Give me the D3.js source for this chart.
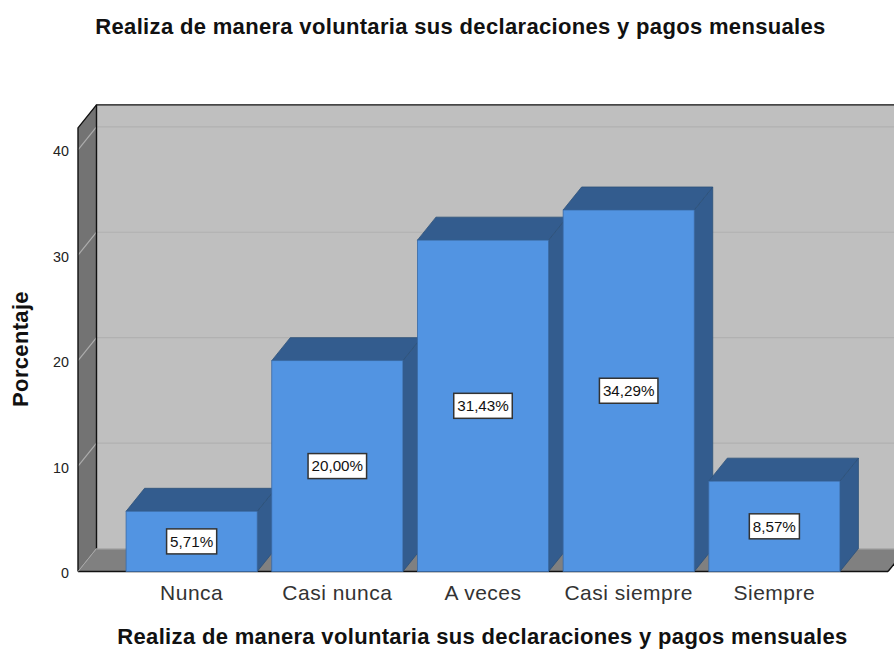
<!DOCTYPE html>
<html><head><meta charset="utf-8">
<script src="https://cdn.jsdelivr.net/npm/d3@7"></script>
<style>html,body{margin:0;padding:0;background:#fff;overflow:hidden}svg{display:block}text{font-family:"Liberation Sans",Arial,sans-serif}</style>
</head><body><svg id="c" width="894" height="649"></svg>
<script>
const categories = ["Nunca","Casi nunca","A veces","Casi siempre","Siempre"];
const values = [5.71,20.00,31.43,34.29,8.57];
const valueLabels = ["5,71%","20,00%","31,43%","34,29%","8,57%"];
const yTicks = [0,10,20,30,40];
const titleText = "Realiza de manera voluntaria sus declaraciones y pagos mensuales";
const yTitle = "Porcentaje";

(function(){
const W=894,H=649, dx=18.5, dy=-23;
const left=78,right=888,base=571.5;
const svg=d3.select("#c");
const x=d3.scaleBand().domain(categories).range([left,right]).paddingInner(0.1).paddingOuter(0.33);
const y=d3.scaleLinear().domain([0,40]).range([base,149.8]);
const topY=y(42.08);
const pts=a=>a.map(p=>p.join(",")).join(" ");

// back wall
svg.append("polygon").attr("points",pts([[left+dx,topY+dy],[right+dx,topY+dy],[right+dx,base+dy],[left+dx,base+dy]])).attr("fill","#bfbfbf");
// side wall
svg.append("polygon").attr("points",pts([[left,topY],[left+dx,topY+dy],[left+dx,base+dy],[left,base]])).attr("fill","#737373");
// floor
svg.append("polygon").attr("points",pts([[left,base],[left+dx,base+dy],[right+dx,base+dy],[right,base]])).attr("fill","#808080");
svg.append("line").attr("x1",left+dx).attr("x2",W).attr("y1",base+dy+0.5).attr("y2",base+dy+0.5).attr("stroke","#a6a6a6").attr("stroke-width",1);
// gridlines
const grid=svg.append("g");
yTicks.slice(1).forEach(t=>{
  grid.append("line").attr("x1",left+dx).attr("x2",W).attr("y1",y(t)+dy).attr("y2",y(t)+dy).attr("stroke","#b1b1b1").attr("stroke-width",1.2);
  grid.append("line").attr("x1",left).attr("x2",left+dx).attr("y1",y(t)).attr("y2",y(t)+dy).attr("stroke","#adadad").attr("stroke-width",1.2);
});
// frame
const frame=svg.append("g").attr("fill","none").attr("stroke","#111").attr("stroke-width",1.4);
frame.append("polyline").attr("points",pts([[left,base],[left,topY],[left+dx,topY+dy],[W,topY+dy]]));
frame.append("line").attr("x1",left+dx).attr("x2",left+dx).attr("y1",topY+dy).attr("y2",base+dy);
frame.append("line").attr("x1",left).attr("x2",right).attr("y1",base).attr("y2",base);
frame.append("line").attr("x1",right).attr("x2",right+dx).attr("y1",base).attr("y2",base+dy);
svg.append("line").attr("x1",left).attr("x2",left+dx).attr("y1",base).attr("y2",base+dy).attr("stroke","#a8a8a8").attr("stroke-width",1);

// bars
const bars=svg.append("g").selectAll("g").data(categories).join("g");
bars.each(function(c,i){
  const g=d3.select(this), x0=x(c), x1=x0+x.bandwidth(), yt=y(values[i]);
  g.append("polygon").attr("points",pts([[x1,yt],[x1+dx,yt+dy],[x1+dx,base+dy],[x1,base]])).attr("fill","#335c8e").attr("stroke","#2c5079").attr("stroke-width",0.8);
  g.append("polygon").attr("points",pts([[x0,yt],[x0+dx,yt+dy],[x1+dx,yt+dy],[x1,yt]])).attr("fill","#335c8e").attr("stroke","#2c5079").attr("stroke-width",0.8);
  g.append("rect").attr("x",x0).attr("y",yt).attr("width",x.bandwidth()).attr("height",base-yt).attr("fill","#5294e2").attr("stroke","#3a6aa5").attr("stroke-width",0.8);
});
// value labels
bars.each(function(c,i){
  const g=d3.select(this), cx=x(c)+x.bandwidth()/2, cy=(y(values[i])+base)/2;
  const t=g.append("text").attr("x",cx).attr("y",cy+5.3).attr("text-anchor","middle").attr("font-size",15.2).attr("fill","#111").text(valueLabels[i]);
  const w=t.node().getComputedTextLength()+7;
  g.insert("rect","text").attr("x",cx-w/2).attr("y",cy-12.5).attr("width",w).attr("height",25).attr("fill","#fff").attr("stroke","#333").attr("stroke-width",1.5);
});
// axes
const ya=svg.append("g").attr("transform",`translate(${left},0)`).call(d3.axisLeft(y).tickValues(yTicks).tickSize(0).tickPadding(9));
ya.select(".domain").remove();
ya.selectAll("text").attr("font-size",14.3).attr("fill","#222").attr("dy","0.42em").style("font-family",'"Liberation Sans",Arial,sans-serif');
const xa=svg.append("g").attr("transform",`translate(0,${base})`).call(d3.axisBottom(x).tickSize(0).tickPadding(14));
xa.select(".domain").remove();
xa.selectAll("text").attr("font-size",21).attr("letter-spacing",0.5).attr("fill","#333").style("font-family",'"Liberation Sans",Arial,sans-serif');
// titles
svg.append("text").attr("x",460.5).attr("y",34).attr("text-anchor","middle").attr("font-size",22).attr("letter-spacing",0.33).attr("font-weight","bold").attr("fill","#111").text(titleText);
svg.append("text").attr("x",482.5).attr("y",644).attr("text-anchor","middle").attr("font-size",22).attr("letter-spacing",0.33).attr("font-weight","bold").attr("fill","#111").text(titleText);
svg.append("text").attr("transform","translate(28,349) rotate(-90)").attr("text-anchor","middle").attr("font-size",22).attr("letter-spacing",0.33).attr("font-weight","bold").attr("fill","#111").text(yTitle);
})();
</script></body></html>
